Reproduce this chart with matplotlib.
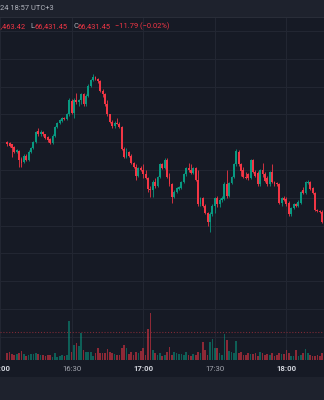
import matplotlib.pyplot as plt
import numpy as np
import pandas as pd
from matplotlib.patches import Rectangle

# 1-minute candles, 16:03 .. 18:15
times = pd.timedelta_range(start='16:03:00', end='18:15:00', freq='1min')

opens = [66500, 66499, 66498, 66496, 66491, 66492, 66485, 66482, 66488, 66484,
         66491, 66495, 66500, 66510, 66507, 66509, 66507, 66505, 66503, 66499,
         66506, 66514, 66517, 66519, 66522, 66521, 66525, 66537, 66526, 66538,
         66536, 66538, 66543, 66534, 66542, 66551, 66556, 66559, 66557, 66555,
         66546, 66543, 66534, 66525, 66518, 66515, 66517, 66516, 66514, 66494,
         66487, 66491, 66488, 66481, 66478, 66470, 66477, 66475, 66471, 66468,
         66458, 66457, 66464, 66461, 66469, 66480, 66477, 66484, 66469, 66462,
         66451, 66455, 66458, 66459, 66464, 66471, 66477, 66475, 66472, 66477,
         66466, 66444, 66450, 66443, 66436, 66428, 66435, 66443, 66450, 66444,
         66448, 66449, 66462, 66452, 66463, 66469, 66480, 66491, 66480, 66475,
         66469, 66471, 66468, 66484, 66473, 66472, 66462, 66475, 66471, 66468,
         66462, 66473, 66464, 66463, 66462, 66445, 66450, 66449, 66445, 66435,
         66441, 66444, 66443, 66445, 66457, 66454, 66463, 66464, 66459, 66454,
         66439, 66438, 66437]
highs = [66501, 66500, 66498, 66497, 66494, 66493, 66487, 66489, 66489, 66493,
         66496, 66501, 66510, 66513, 66511, 66510, 66507, 66506, 66504, 66507,
         66515, 66518, 66521, 66523, 66523, 66526, 66540, 66539, 66540, 66544,
         66539, 66544, 66544, 66543, 66552, 66557, 66561, 66560, 66558, 66556,
         66548, 66544, 66538, 66525, 66520, 66519, 66522, 66518, 66515, 66496,
         66495, 66492, 66489, 66482, 66480, 66478, 66479, 66480, 66475, 66469,
         66461, 66466, 66468, 66470, 66481, 66481, 66486, 66486, 66472, 66463,
         66457, 66460, 66461, 66465, 66472, 66478, 66481, 66480, 66478, 66478,
         66475, 66451, 66451, 66444, 66437, 66437, 66444, 66451, 66452, 66450,
         66452, 66464, 66475, 66464, 66470, 66481, 66494, 66493, 66481, 66478,
         66473, 66472, 66485, 66485, 66475, 66474, 66476, 66481, 66473, 66470,
         66474, 66480, 66465, 66464, 66463, 66451, 66452, 66451, 66447, 66442,
         66445, 66445, 66448, 66456, 66460, 66465, 66466, 66465, 66460, 66455,
         66440, 66439, 66439]
lows = [66497, 66496, 66487, 66490, 66490, 66478, 66478, 66481, 66483, 66483,
        66490, 66494, 66499, 66506, 66506, 66506, 66503, 66500, 66498, 66498,
        66505, 66513, 66516, 66518, 66520, 66520, 66524, 66525, 66522, 66534,
        66533, 66534, 66533, 66533, 66541, 66550, 66555, 66556, 66553, 66545,
        66541, 66533, 66524, 66517, 66513, 66513, 66516, 66513, 66493, 66486,
        66486, 66487, 66480, 66477, 66466, 66469, 66474, 66468, 66467, 66455,
        66451, 66451, 66459, 66460, 66468, 66476, 66476, 66468, 66461, 66445,
        66450, 66454, 66457, 66458, 66463, 66470, 66473, 66471, 66471, 66465,
        66443, 66443, 66442, 66435, 66425, 66419, 66434, 66436, 66442, 66442,
        66446, 66448, 66450, 66451, 66462, 66468, 66479, 66479, 66470, 66468,
        66467, 66466, 66467, 66472, 66469, 66461, 66461, 66469, 66464, 66461,
        66461, 66463, 66461, 66461, 66444, 66443, 66447, 66443, 66434, 66434,
        66440, 66442, 66442, 66444, 66453, 66453, 66462, 66457, 66453, 66438,
        66437, 66436, 66427]
closes = [66498, 66497, 66495, 66491, 66493, 66484, 66481, 66488, 66484, 66491,
          66495, 66500, 66509, 66507, 66509, 66507, 66504, 66502, 66499, 66506,
          66514, 66517, 66520, 66522, 66521, 66525, 66538, 66526, 66538, 66536,
          66538, 66543, 66534, 66542, 66551, 66556, 66559, 66557, 66555, 66546,
          66543, 66534, 66525, 66518, 66515, 66517, 66516, 66514, 66494, 66487,
          66491, 66488, 66481, 66478, 66470, 66477, 66475, 66471, 66468, 66458,
          66457, 66464, 66461, 66469, 66480, 66477, 66484, 66469, 66462, 66451,
          66455, 66459, 66460, 66464, 66471, 66477, 66475, 66472, 66477, 66466,
          66444, 66450, 66443, 66436, 66428, 66435, 66443, 66450, 66444, 66448,
          66450, 66462, 66452, 66463, 66469, 66480, 66492, 66480, 66474, 66469,
          66468, 66468, 66484, 66473, 66470, 66462, 66475, 66471, 66465, 66462,
          66473, 66464, 66462, 66462, 66445, 66450, 66448, 66444, 66435, 66441,
          66444, 66443, 66446, 66455, 66454, 66464, 66464, 66458, 66454, 66439,
          66438, 66437, 66428]
volumes = [7, 8, 6, 5, 6, 7, 9, 6, 4, 5,
           6, 6, 7, 6, 5, 5, 4, 5, 5, 3,
           7, 3, 4, 5, 4, 5, 39, 8, 15, 17,
           14, 27, 10, 8, 8, 8, 4, 7, 12, 7,
           7, 7, 11, 8, 7, 6, 5, 5, 12, 15,
           12, 6, 8, 5, 8, 7, 9, 12, 5, 31,
           47, 10, 7, 5, 7, 4, 5, 8, 13, 5,
           8, 7, 6, 6, 5, 8, 5, 4, 6, 5,
           8, 7, 18, 10, 5, 18, 21, 12, 12, 7,
           5, 26, 20, 9, 8, 7, 19, 7, 8, 5,
           5, 7, 6, 6, 7, 4, 8, 7, 5, 6,
           5, 7, 4, 5, 7, 6, 6, 10, 7, 4,
           4, 10, 4, 5, 7, 11, 7, 5, 4, 4,
           5, 4, 7]

tick_minutes = [0, 30, 60, 90, 120]
tick_labels = ['16:00', '16:30', '17:00', '17:30', '18:00']
grid_prices = np.arange(66325, 66601, 25)

BG = '#161a25'
PANEL = '#1e222d'
GRID = '#222632'
UP = '#089981'
DOWN = '#f23645'

plt.rcParams['font.family'] = ['Roboto', 'DejaVu Sans']

t = np.asarray(times.total_seconds() / 60 - 16 * 60)
o = np.array(opens, float)
h = np.array(highs, float)
l = np.array(lows, float)
c = np.array(closes, float)
up = c >= o
cols = np.where(up, UP, DOWN)

W, H = 324, 400


def fy(y):
    return 1 - y / H


fig = plt.figure(figsize=(3.24, 4.0), dpi=100)
fig.patch.set_facecolor(BG)

rect = [0, fy(360), 1, (360 - 17) / H]
ax = fig.add_axes(rect)
ax.set_facecolor(BG)
ax.set_xlim(2.59, 135.75)
ax.set_ylim(66304, 66612.7)
for s in ax.spines.values():
    s.set_visible(False)
ax.set_xticks(tick_minutes)
ax.set_yticks(grid_prices)
ax.grid(True, color=GRID, lw=0.75)
ax.set_axisbelow(True)
ax.tick_params(length=0, labelbottom=False, labelleft=False)

# candles
ax.vlines(t, l, h, colors=cols, lw=0.7, alpha=0.85, zorder=3)
body = np.maximum(np.abs(c - o), 0.9)
ax.bar(t, body, bottom=np.minimum(o, c), width=0.8, color=cols, lw=0, zorder=4)

# volume overlay
axv = fig.add_axes(rect, sharex=ax)
axv.patch.set_visible(False)
axv.set_ylim(0, 343)
axv.axis('off')
axv.bar(t, volumes, width=0.7, color=cols, alpha=0.55, lw=0)
axv.axhline(28, color='#7d2a36', lw=0.8, ls=(0, (1, 1.6)))

# time labels
for m, lab in zip(tick_minutes, tick_labels):
    full = lab.endswith(':00')
    ax.text(m, -0.025, lab, transform=ax.get_xaxis_transform(), ha='center', va='center',
            fontsize=5.6, color='#d1d4dc' if full else '#a3a6af',
            weight='bold' if full else 'normal', clip_on=False)

# header and bottom panels
fig.add_artist(Rectangle((0, fy(17)), 1, 17 / H, transform=fig.transFigure, color=PANEL, lw=0))
fig.add_artist(Rectangle((0, 0), 1, 23 / H, transform=fig.transFigure, color=PANEL, lw=0))
fig.add_artist(plt.Line2D([0, 1], [fy(17), fy(17)], transform=fig.transFigure, color='#2a2e39', lw=0.7))

fig.text(0, fy(8.5), '24 18:57 UTC+3', color='#b2b5be', fontsize=5.4, va='center', ha='left')
ty = fy(26.5)
fig.text(26 / W, ty, '66,463.42', color=DOWN, fontsize=5.4, va='center', ha='right')
fig.text(30.5 / W, ty, 'L', color='#b2b5be', fontsize=5.4, va='center')
fig.text(34.5 / W, ty, '66,431.45', color=DOWN, fontsize=5.4, va='center')
fig.text(73 / W, ty, 'C', color='#b2b5be', fontsize=5.4, va='center')
fig.text(77.5 / W, ty, '66,431.45', color=DOWN, fontsize=5.4, va='center')
fig.text(115 / W, ty, '\u221211.79 (\u22120.02%)', color=DOWN, fontsize=5.4, va='center')

plt.savefig('out.png', dpi=100, facecolor=BG)
